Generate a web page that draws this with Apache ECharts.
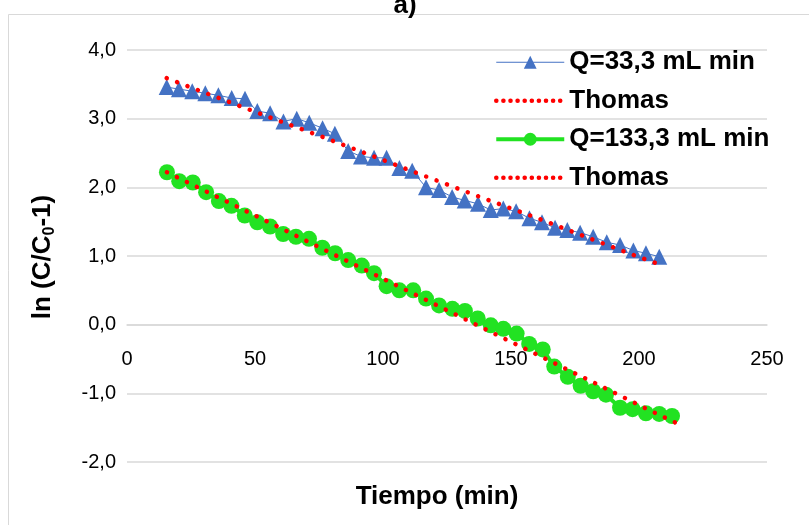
<!DOCTYPE html>
<html><head><meta charset="utf-8">
<script src="https://cdn.jsdelivr.net/npm/echarts@6/dist/echarts.min.js"></script>
<style>html,body{margin:0;padding:0;background:#fff}#c{width:809px;height:525px}</style>
</head><body><div id="c"></div>
<script>
// Axis ticks
const xAxisTicks = [0, 50, 100, 150, 200, 250];
const yAxisTicks = [-2, -1, 0, 1, 2, 3, 4];

// Series names
const nameQ1 = 'Q=33,3 mL min';
const nameT1 = 'Thomas (33,3)';
const nameQ2 = 'Q=133,3 mL min';
const nameT2 = 'Thomas (133,3)';

// Q = 33,3 mL/min (experimental)
const blueX = [15.5, 20.3, 25.5, 30.6, 35.7, 40.9, 46.1, 50.9, 55.9, 61.1, 66.3, 71.2, 76.4, 81.2, 86.4, 91.4, 96.5, 101.4, 106.4, 111.4, 116.8, 121.9, 127.0, 131.9, 137.1, 142.1, 147.0, 152.0, 157.2, 162.1, 167.2, 172.0, 177.0, 182.1, 187.4, 192.6, 197.8, 202.7, 207.9];
const blueY = [3.46, 3.43, 3.40, 3.37, 3.34, 3.30, 3.29, 3.11, 3.08, 2.96, 3.00, 2.94, 2.86, 2.78, 2.53, 2.45, 2.43, 2.43, 2.28, 2.24, 2.00, 1.96, 1.86, 1.81, 1.76, 1.67, 1.69, 1.65, 1.55, 1.49, 1.41, 1.38, 1.34, 1.28, 1.20, 1.16, 1.08, 1.04, 0.99];

// Thomas model for Q = 33,3
const thomasBlueX = [15.5, 35.9, 56.4, 76.7, 97.1, 117.4, 137.9, 158.2, 178.5, 198.8, 207.1];
const thomasBlueY = [3.59, 3.30, 3.01, 2.73, 2.44, 2.15, 1.86, 1.58, 1.29, 1.00, 0.89];

// Q = 133,3 mL/min (experimental)
const greenX = [15.6, 20.4, 25.7, 30.9, 35.9, 40.8, 46.0, 50.9, 55.9, 61.0, 66.0, 71.1, 76.3, 81.3, 86.4, 91.7, 96.5, 101.4, 106.4, 111.8, 116.8, 121.9, 127.1, 132.0, 137.0, 142.1, 147.0, 152.2, 157.1, 162.4, 166.9, 172.2, 177.2, 182.1, 187.1, 192.6, 197.5, 202.7, 207.9, 212.9];
const greenY = [2.22, 2.09, 2.07, 1.93, 1.80, 1.73, 1.59, 1.49, 1.43, 1.32, 1.28, 1.25, 1.12, 1.04, 0.94, 0.86, 0.75, 0.56, 0.50, 0.50, 0.38, 0.28, 0.23, 0.20, 0.09, -0.01, -0.06, -0.13, -0.28, -0.36, -0.61, -0.76, -0.89, -0.97, -1.02, -1.21, -1.23, -1.29, -1.30, -1.33];

// Thomas model for Q = 133,3
const thomasGreenX = [15.6, 35.3, 58.7, 78.2, 97.8, 121.2, 140.7, 164.2, 187.6, 203.2, 215.0];
const thomasGreenY = [2.22, 1.86, 1.43, 1.07, 0.71, 0.28, -0.08, -0.51, -0.94, -1.23, -1.44];

const zip = (xs, ys) => xs.map((x, i) => [x, ys[i]]);
const FONT = '"Liberation Sans", Arial, sans-serif';
const BLUE = '#4472c4', GREEN = '#22e222', RED = '#ff0000';
const dotted = { color: RED, width: 4.5, type: [0.1, 11], cap: 'round' };

const GRID_TOP = 50, GRID_BOTTOM = 63, H = 525;
const plotH = H - GRID_TOP - GRID_BOTTOM;
const yMin = yAxisTicks[0], yMax = yAxisTicks[yAxisTicks.length - 1];
// shift x axis up to the y = 0 line
const zeroOffset = -plotH * (0 - yMin) / (yMax - yMin);

const chart = echarts.init(document.getElementById('c'), null, { renderer: 'canvas' });
chart.setOption({
  animation: false,
  backgroundColor: '#fff',
  grid: { left: 127, right: 42, top: GRID_TOP, bottom: GRID_BOTTOM, containLabel: false },
  xAxis: {
    type: 'value', min: xAxisTicks[0], max: xAxisTicks[xAxisTicks.length - 1], interval: 50,
    offset: zeroOffset,
    axisLine: { show: true, onZero: false, lineStyle: { color: '#d9d9d9', width: 1.5 } },
    axisTick: { show: false }, splitLine: { show: false },
    axisLabel: { fontSize: 20, color: '#000', margin: 25, fontFamily: FONT }
  },
  yAxis: {
    type: 'value', min: yMin, max: yMax, interval: 1,
    axisLine: { show: false }, axisTick: { show: false },
    splitLine: { lineStyle: { color: '#d9d9d9', width: 1.5 } },
    axisLabel: { fontSize: 20, color: '#000', margin: 11, fontFamily: FONT,
      formatter: v => v.toFixed(1).replace('.', ',') }
  },
  legend: {
    orient: 'vertical', left: 494, top: 47, padding: 0,
    itemWidth: 68, itemHeight: 16, itemGap: 8,
    textStyle: { fontSize: 26, fontWeight: 'bold', color: '#000', lineHeight: 30.5, fontFamily: FONT },
    formatter: n => n.replace(/ \(.*\)$/, ''),
    data: [
      { name: nameQ1, lineStyle: { width: 1 } },
      { name: nameT1, lineStyle: { width: 4.5, type: [0.1, 7], cap: 'round' }, itemStyle: { opacity: 0 } },
      { name: nameQ2, lineStyle: { width: 4 } },
      { name: nameT2, lineStyle: { width: 4.5, type: [0.1, 7], cap: 'round' }, itemStyle: { opacity: 0 } }
    ]
  },
  graphic: [
    { type: 'rect', silent: true, shape: { x: 8.5, y: 14.5, width: 900, height: 700 },
      style: { fill: 'none', stroke: '#d9d9d9', lineWidth: 1 } },
    { type: 'text', x: 405, y: -7, style: { text: 'a)', fontSize: 26, fontWeight: 'bold', fontFamily: FONT, fill: '#000', align: 'center', verticalAlign: 'top' } },
    { type: 'text', x: 437, y: 497, style: { text: 'Tiempo (min)', fontSize: 26, fontWeight: 'bold', fontFamily: FONT, fill: '#000', align: 'center', verticalAlign: 'middle' } },
    { type: 'text', x: 43, y: 257, rotation: Math.PI / 2,
      style: { text: '{a|ln (C/C}{s|0}{a|-1)}', align: 'center', verticalAlign: 'middle', fill: '#000',
        rich: {
          a: { fontSize: 26, fontWeight: 'bold', fontFamily: FONT, lineHeight: 30, fill: '#000' },
          s: { fontSize: 16, fontWeight: 'bold', fontFamily: FONT, lineHeight: 16, verticalAlign: 'bottom', fill: '#000' }
        } } }
  ],
  series: [
    { name: nameQ1, type: 'line', data: zip(blueX, blueY), symbol: 'triangle', symbolSize: 16,
      itemStyle: { color: BLUE }, lineStyle: { color: BLUE, width: 1 }, z: 2 },
    { name: nameQ2, type: 'line', data: zip(greenX, greenY), symbol: 'circle', symbolSize: 16,
      itemStyle: { color: GREEN }, lineStyle: { color: GREEN, width: 4 }, z: 3 },
    { name: nameT1, type: 'line', data: zip(thomasBlueX, thomasBlueY), symbol: 'none',
      itemStyle: { color: RED }, lineStyle: dotted, z: 4 },
    { name: nameT2, type: 'line', data: zip(thomasGreenX, thomasGreenY), symbol: 'none',
      itemStyle: { color: RED }, lineStyle: dotted, z: 4 }
  ]
});
</script>
</body></html>
